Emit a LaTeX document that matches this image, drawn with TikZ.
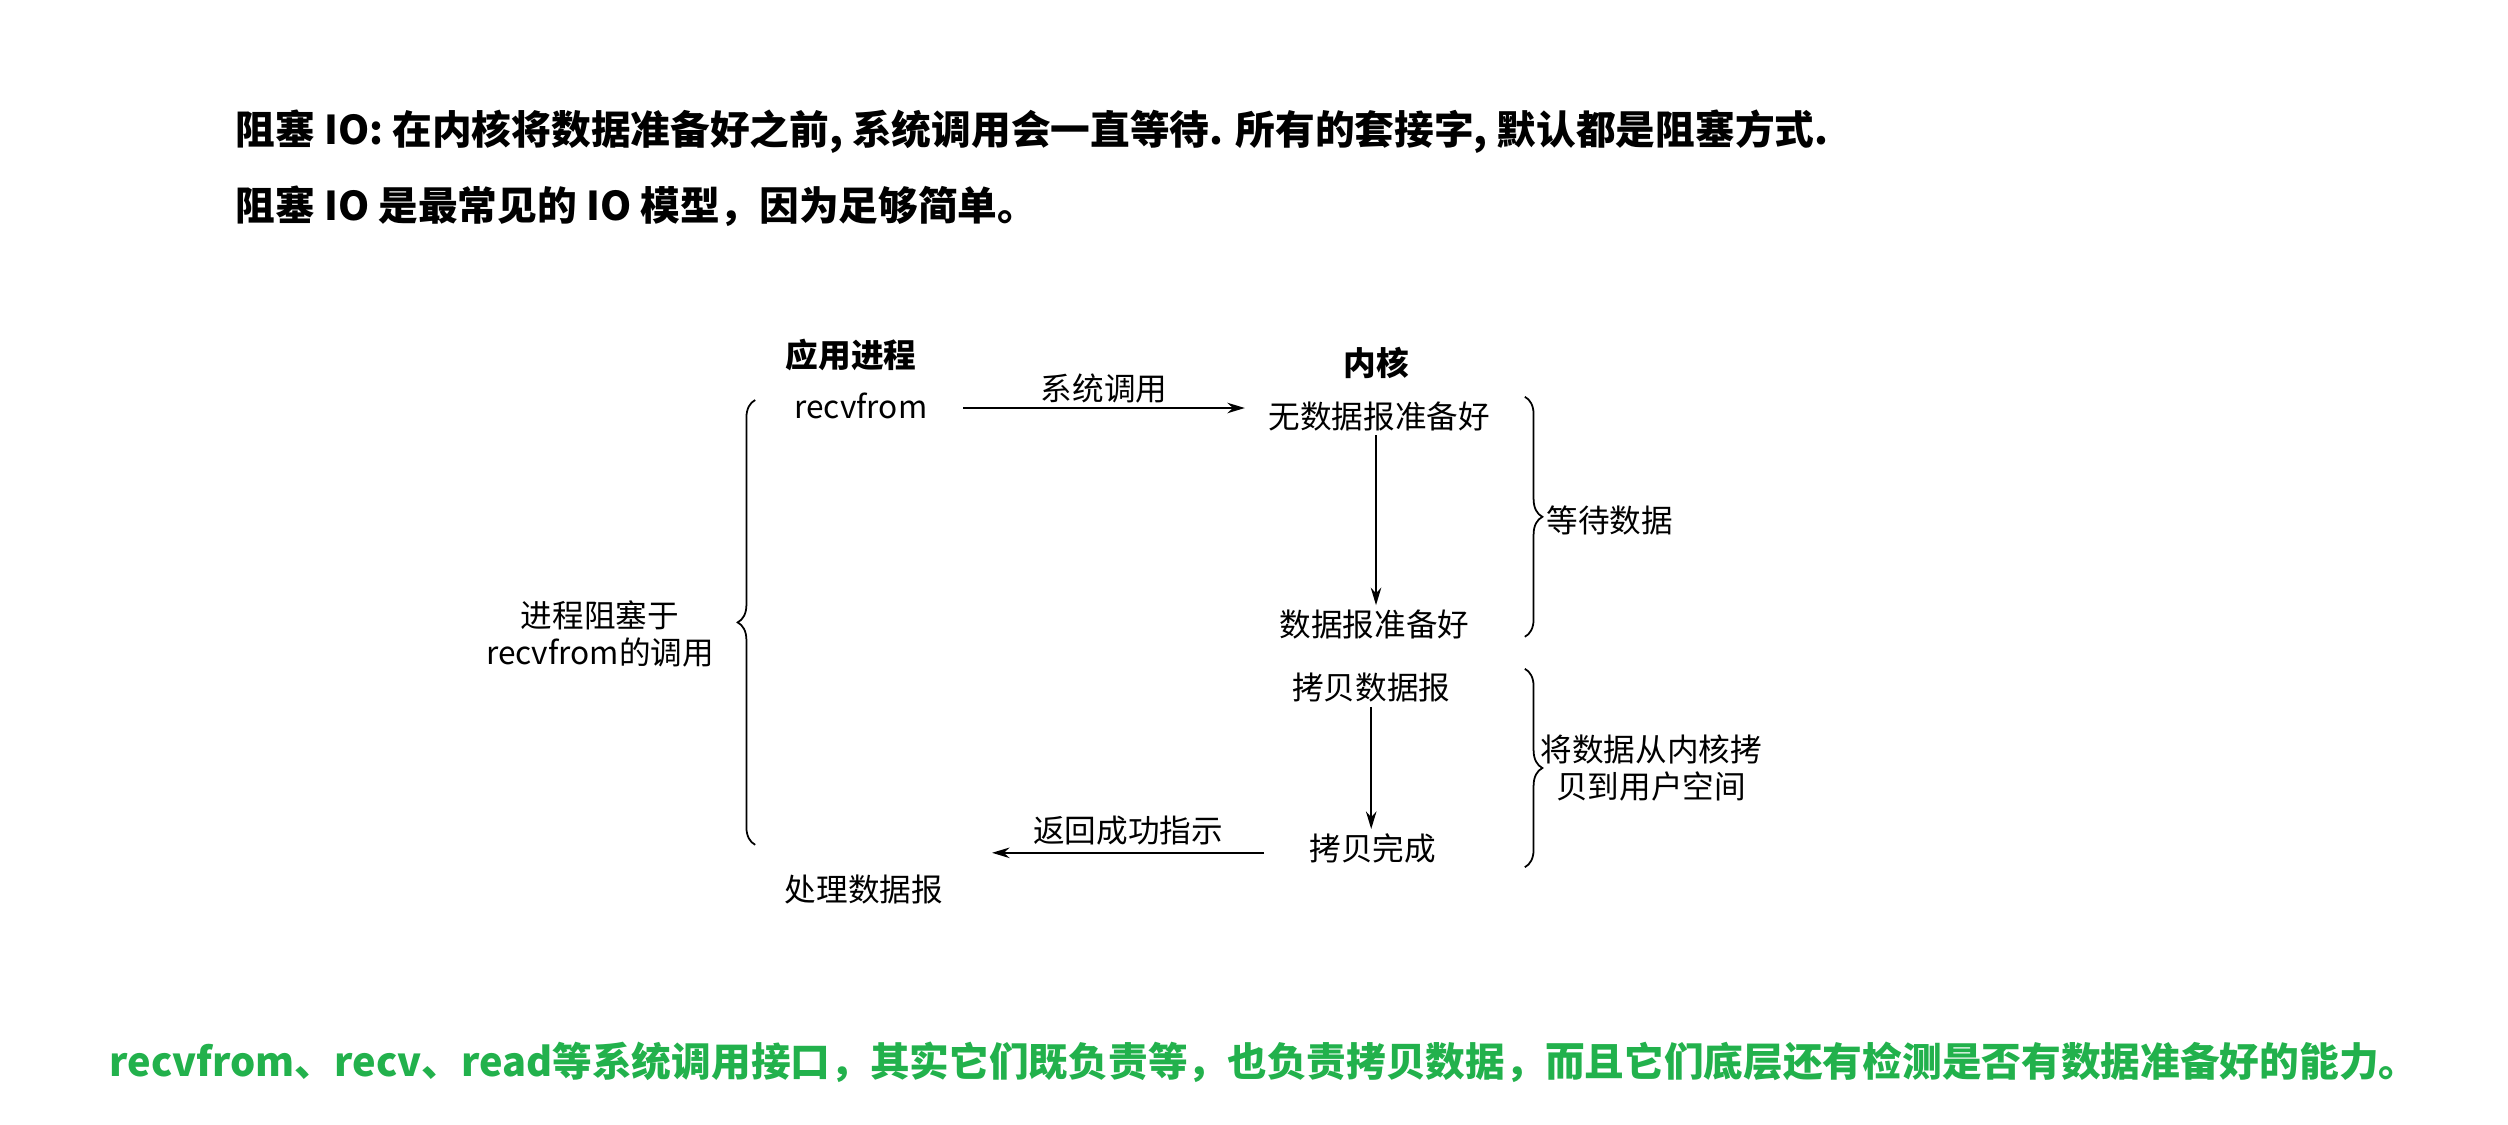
\documentclass[tikz,border=0pt]{standalone}
\usepackage{fontspec}
\setmainfont{Noto Sans CJK SC}
\usetikzlibrary{decorations.pathreplacing,arrows.meta}
\definecolor{mygreen}{HTML}{22B14C}
\begin{document}
\begin{tikzpicture}[x=0.016cm,y=-0.016cm,
  lbl/.style={font=\fontsize{9}{10.5}\selectfont,inner sep=1pt},
  hdr/.style={font=\fontsize{9.3}{11}\selectfont\bfseries,inner sep=1pt},
  ttl/.style={font=\fontsize{11.3}{13}\selectfont\bfseries,anchor=west,inner sep=0pt},
  arr/.style={-{Stealth[length=5pt,width=3pt]},line width=0.5pt},
  brc/.style={decorate,decoration={brace,amplitude=5pt},line width=0.5pt}]
\useasboundingbox (0,0) rectangle (1567.5,703);
\node[ttl] (t1) at (147,82) {阻塞 IO: 在内核将数据准备好之前, 系统调用会一直等待. 所有的套接字, 默认都是阻塞方式.};
\node[ttl] (t2) at (147,129) {阻塞 IO 是最常见的 IO 模型，因为足够简单。};
\node[hdr] (app) at (532,222) {应用进程};
\node[hdr] (ker) at (860,227) {内核};
\node[lbl] (rf) at (538,254) {recvfrom};
\node[lbl] (nd) at (862,260) {无数据报准备好};
\node[lbl] (dr) at (859,390) {数据报准备好};
\node[lbl] (cp) at (857,430) {拷贝数据报};
\node[lbl] (cd) at (858,530) {拷贝完成};
\node[lbl] (pr) at (540,556) {处理数据报};
\coordinate (a1) at (602,255); \coordinate (a2) at (778,255);
\draw[arr] (a1) -- node[lbl,above=0pt] {系统调用} (a2);
\draw[arr] (860,272) -- (dr.north -| 860,0);
\draw[arr] (cp.south -| 857,0) -- (cd.north -| 857,0);
\coordinate (b1) at (790,533); \coordinate (b2) at (620,533);
\draw[arr] (b1) -- node[lbl,above=1pt] {返回成功指示} (b2);
\draw[brc] (472,528) -- (472,250);
\node[lbl,align=center] (blk) at (375,396) {进程阻塞于\\recvfrom的调用};
\draw[brc] (953,248) -- (953,398);
\node[lbl] (wd) at (1006,325) {等待数据};
\draw[brc] (953,418) -- (953,542);
\node[lbl,align=center] (cpl) at (1032,480) {将数据从内核拷\\贝到用户空间};
\node[font=\fontsize{11.3}{13}\selectfont\bfseries,text=mygreen,inner sep=0pt] (g) at (790,664) {recvfrom、recv、read等系统调用接口，其实它们既负责等，也负责拷贝数据，而且它们底层还有检测是否有数据准备好的能力。};
\end{tikzpicture}
\end{document}
